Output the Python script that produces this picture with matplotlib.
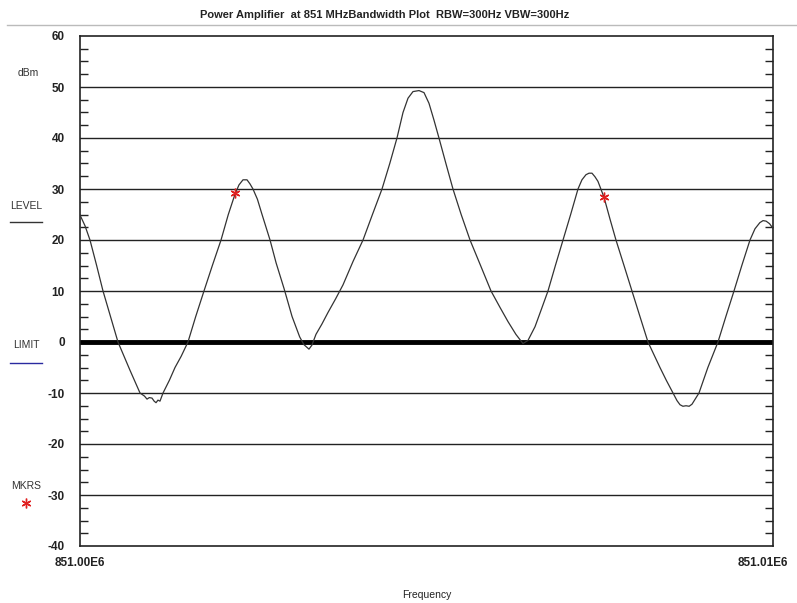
import numpy as np
import matplotlib
matplotlib.use("Agg")
import matplotlib.pyplot as plt
from matplotlib.ticker import MultipleLocator
import matplotlib.transforms as mtransforms
from matplotlib.lines import Line2D

# ==========================================
# DATA (frequency offset from 851.00 MHz, in Hz)
# ==========================================

freq_offset_hz = [
    0, 72, 144, 240, 332, 440, 548, 720, 866, 930, 967, 1000, 1039, 1070, 1097, 1125, 1154, 1198,
    1290, 1371, 1460, 1558, 1670, 1789, 1910, 2035, 2140, 2237, 2294, 2352, 2410, 2453, 2496,
    2560, 2627, 2742, 2830, 2944, 3060, 3170, 3230, 3304, 3347, 3405, 3490, 3579, 3690,
    3795, 3940, 4084, 4220, 4358, 4470, 4574, 4661, 4733, 4805, 4892, 4964, 5036, 5108, 5180,
    5280, 5382, 5500, 5628, 5780, 5931, 6060, 6176, 6290, 6392, 6464, 6566, 6660, 6753,
    6860, 6970, 7080, 7186, 7243, 7301, 7345, 7388, 7431, 7474, 7561, 7650, 7734, 7850, 7965,
    8080, 8196, 8369, 8460, 8557, 8615, 8658, 8700, 8745, 8790, 8831, 8932, 9060, 9206,
    9320, 9437, 9550, 9668, 9740, 9810, 9856, 9900, 9950, 10000,
]
level_dbm = [
    24.9, 22.8, 20.0, 15.0, 10.0, 5.0, 0.0, -5.5, -10.0, -10.6, -11.2, -10.9, -11.0, -11.6, -11.9, -11.4, -11.6, -10.0,
    -7.5, -5.0, -2.8, 0.0, 5.0, 10.0, 15.0, 20.0, 25.0, 29.0, 30.8, 31.8, 31.8, 31.0, 30.0,
    28.0, 25.0, 20.0, 15.5, 10.5, 5.0, 1.0, -0.5, -1.4, -0.6, 1.5, 3.5, 5.8, 8.5,
    11.2, 15.8, 20.0, 25.0, 30.0, 35.0, 40.0, 45.0, 47.8, 49.1, 49.3, 48.9, 46.8, 43.5, 40.0,
    35.0, 30.0, 25.0, 20.0, 15.0, 10.0, 6.8, 4.0, 1.5, -0.3, 0.3, 3.0, 6.5, 10.0,
    15.0, 20.0, 25.0, 30.0, 31.8, 32.8, 33.1, 33.1, 32.4, 31.5, 28.4, 24.0, 20.0, 15.0, 10.0,
    5.0, 0.0, -5.0, -7.5, -10.0, -11.5, -12.3, -12.6, -12.5, -12.6, -12.2, -10.0, -5.0, 0.0,
    5.0, 10.0, 15.0, 20.0, 22.2, 23.4, 23.8, 23.7, 23.2, 22.3,
]

marker_offset_hz = [2237, 7561]
marker_dbm = [29.2, 28.4]

limit_dbm = 0
y_ticks = [60, 50, 40, 30, 20, 10, 0, -10, -20, -30, -40]
x_tick_labels = ["851.00E6", "851.01E6"]

# ==========================================
# FIGURE
# ==========================================

plt.rcParams["font.family"] = ["Liberation Sans", "DejaVu Sans"]

fig = plt.figure(figsize=(7.97, 6.03), dpi=100)
ax = fig.add_axes([80 / 797, 57 / 603, 693 / 797, 510 / 603])

# horizontal grid lines
for yv in y_ticks[1:-1]:
    if yv == limit_dbm:
        continue
    ax.axhline(yv, color="#222222", lw=1.0, zorder=1)

# limit line
ax.axhline(limit_dbm, color="black", lw=3.5, zorder=2)

# trace
ax.plot(freq_offset_hz, level_dbm, color="#333333", lw=0.9, zorder=3)

# markers
ax.plot(marker_offset_hz, marker_dbm, ls="none", marker=(6, 2, 0),
        color="#e02020", ms=7, mew=1.0, zorder=4)

ax.set_xlim(0, 10000)
ax.set_ylim(-40, 60)

ax.set_yticks(y_ticks)
ax.set_yticklabels([str(v) for v in y_ticks], fontsize=8.5, fontweight="bold",
                   color="#222222")
ax.yaxis.set_minor_locator(MultipleLocator(2.5))
ax.tick_params(axis="y", which="major", length=0, pad=11)
ax.tick_params(axis="y", which="minor", direction="in", length=6, width=1.0,
               left=True, right=True, color="#222222")

ax.set_xticks([0, 10000])
ax.set_xticklabels(x_tick_labels, fontsize=8.5, fontweight="bold", color="#222222")
ax.tick_params(axis="x", length=0, pad=8)
shift = mtransforms.ScaledTranslation(-10 / 100, 0, fig.dpi_scale_trans)
lbl = ax.get_xticklabels()[-1]
lbl.set_transform(lbl.get_transform() + shift)

for s in ax.spines.values():
    s.set_color("#222222")
    s.set_linewidth(1.2)

ax.set_xlabel("Frequency", fontsize=7.5, labelpad=15, color="#222222")

# title and separator
fig.text(0.483, 1 - 15 / 603, "Power Amplifier  at 851 MHzBandwidth Plot  RBW=300Hz VBW=300Hz",
         ha="center", va="center", fontsize=8, fontweight="bold", color="#222222")
fig.add_artist(Line2D([7 / 797, 1.0], [1 - 25 / 603, 1 - 25 / 603],
                      color="#bbbbbb", lw=1.0))

# left legend area
fig.text(28 / 797, 1 - 73 / 603, "dBm", ha="center", va="center", fontsize=7.5, color="#333333")
fig.text(26 / 797, 1 - 206 / 603, "LEVEL", ha="center", va="center", fontsize=7.5, color="#333333")
fig.add_artist(Line2D([10 / 797, 42 / 797], [1 - 222 / 603, 1 - 222 / 603], color="#333333", lw=1.0))
fig.text(26 / 797, 1 - 345 / 603, "LIMIT", ha="center", va="center", fontsize=7.5, color="#333333")
fig.add_artist(Line2D([10 / 797, 42 / 797], [1 - 363 / 603, 1 - 363 / 603], color="#2a2aa0", lw=1.0))
fig.text(26 / 797, 1 - 486 / 603, "MKRS", ha="center", va="center", fontsize=7.5, color="#333333")
fig.add_artist(Line2D([26 / 797], [1 - 503 / 603], ls="none", marker=(6, 2, 0),
                      color="#e02020", ms=7, mew=1.0))

fig.savefig("out.png", dpi=100)
